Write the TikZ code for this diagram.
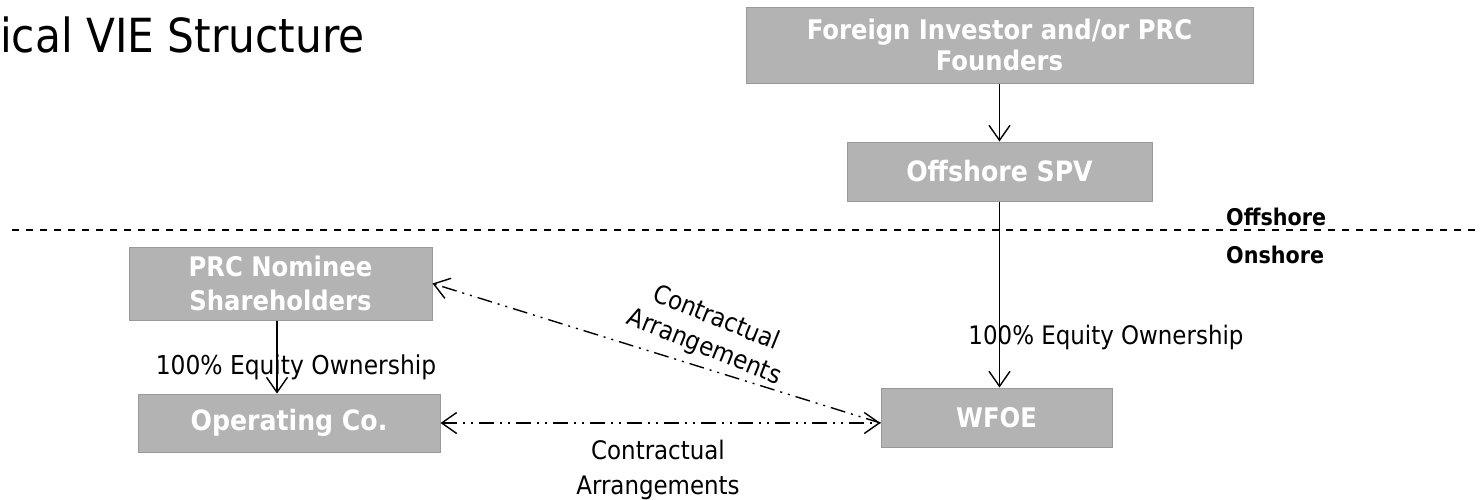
\documentclass[tikz,border=0pt]{standalone}
\usepackage{fontspec}
\setmainfont{DejaVu Sans Condensed}
\usetikzlibrary{arrows.meta}
\definecolor{boxfill}{HTML}{B3B3B3}
\definecolor{boxline}{HTML}{999999}
\begin{document}
\begin{tikzpicture}[x=1pt,y=-1pt,
  entity/.style={draw=boxline, fill=boxfill, line width=1pt, text=white, align=center, inner sep=0pt, anchor=center},
  barb/.tip={Straight Barb[length=15pt,width=21pt,line width=1.4pt]},
  conn/.style={line width=1.4pt, -barb},
  contract/.style={line width=1.4pt, dash pattern=on 15pt off 6pt on 2pt off 6pt on 2pt off 6pt},
  lbl/.style={inner sep=0pt, align=center}]
\useasboundingbox (0,0) rectangle (1480,499);

% title
\node[lbl, anchor=base west, font={\fontsize{47}{54}\selectfont}] (title) at (0,52) {ical VIE Structure};

% separator
\coordinate (sepL) at (12,230);
\coordinate (sepR) at (1480,230);
\draw[line width=2pt, dash pattern=on 7pt off 7pt] (sepL) -- (sepR);
\node[lbl, anchor=west, font={\fontsize{23}{27}\selectfont\bfseries}] (offs) at (1226,217) {Offshore};
\node[lbl, anchor=west, font={\fontsize{23}{27}\selectfont\bfseries}] (ons) at (1226,255) {Onshore};

% boxes
\node[entity, minimum width=507pt, minimum height=76pt, font={\fontsize{27}{31}\selectfont\bfseries}] (fi) at (999.5,45) {Foreign Investor and/or PRC\\Founders};
\node[entity, minimum width=305pt, minimum height=59pt, font={\fontsize{28}{34}\selectfont\bfseries}] (spv) at (999.5,171.5) {Offshore SPV};
\node[entity, minimum width=231pt, minimum height=59pt, font={\fontsize{27}{30}\selectfont\bfseries}] (wfoe) at (996.5,417.5) {WFOE};
\node[entity, minimum width=303pt, minimum height=73pt, font={\fontsize{27}{34}\selectfont\bfseries}] (prc) at (280.5,283.5) {PRC Nominee\\Shareholders};
\node[entity, minimum width=302pt, minimum height=58pt, font={\fontsize{28}{30}\selectfont\bfseries}] (op) at (289,423) {Operating Co.};

% labels
\node[lbl, font={\fontsize{26}{30}\selectfont}] (eqL) at (296,367) {100\% Equity Ownership};
\node[lbl, font={\fontsize{25.5}{30}\selectfont}] (eqR) at (1106,337) {100\% Equity Ownership};
\node[lbl, font={\fontsize{25.5}{35}\selectfont}] (caB) at (658,469.5) {Contractual\\Arrangements};
\node[lbl, font={\fontsize{25.5}{31}\selectfont}, rotate=-22] (caD) at (710,333) {Contractual\\Arrangements};

% connectors
\draw[conn] (fi.south) -- (spv.north);
\draw[conn] (spv.south) -- (spv.south |- wfoe.north);
\draw[conn] (prc.south -| 277,0) -- (op.north -| 277,0);
\coordinate (meet) at (op.east -| wfoe.west);
\draw[contract, barb-barb] (op.east) -- (meet);
\draw[contract, -barb] (meet) -- (prc.east);
\end{tikzpicture}
\end{document}
